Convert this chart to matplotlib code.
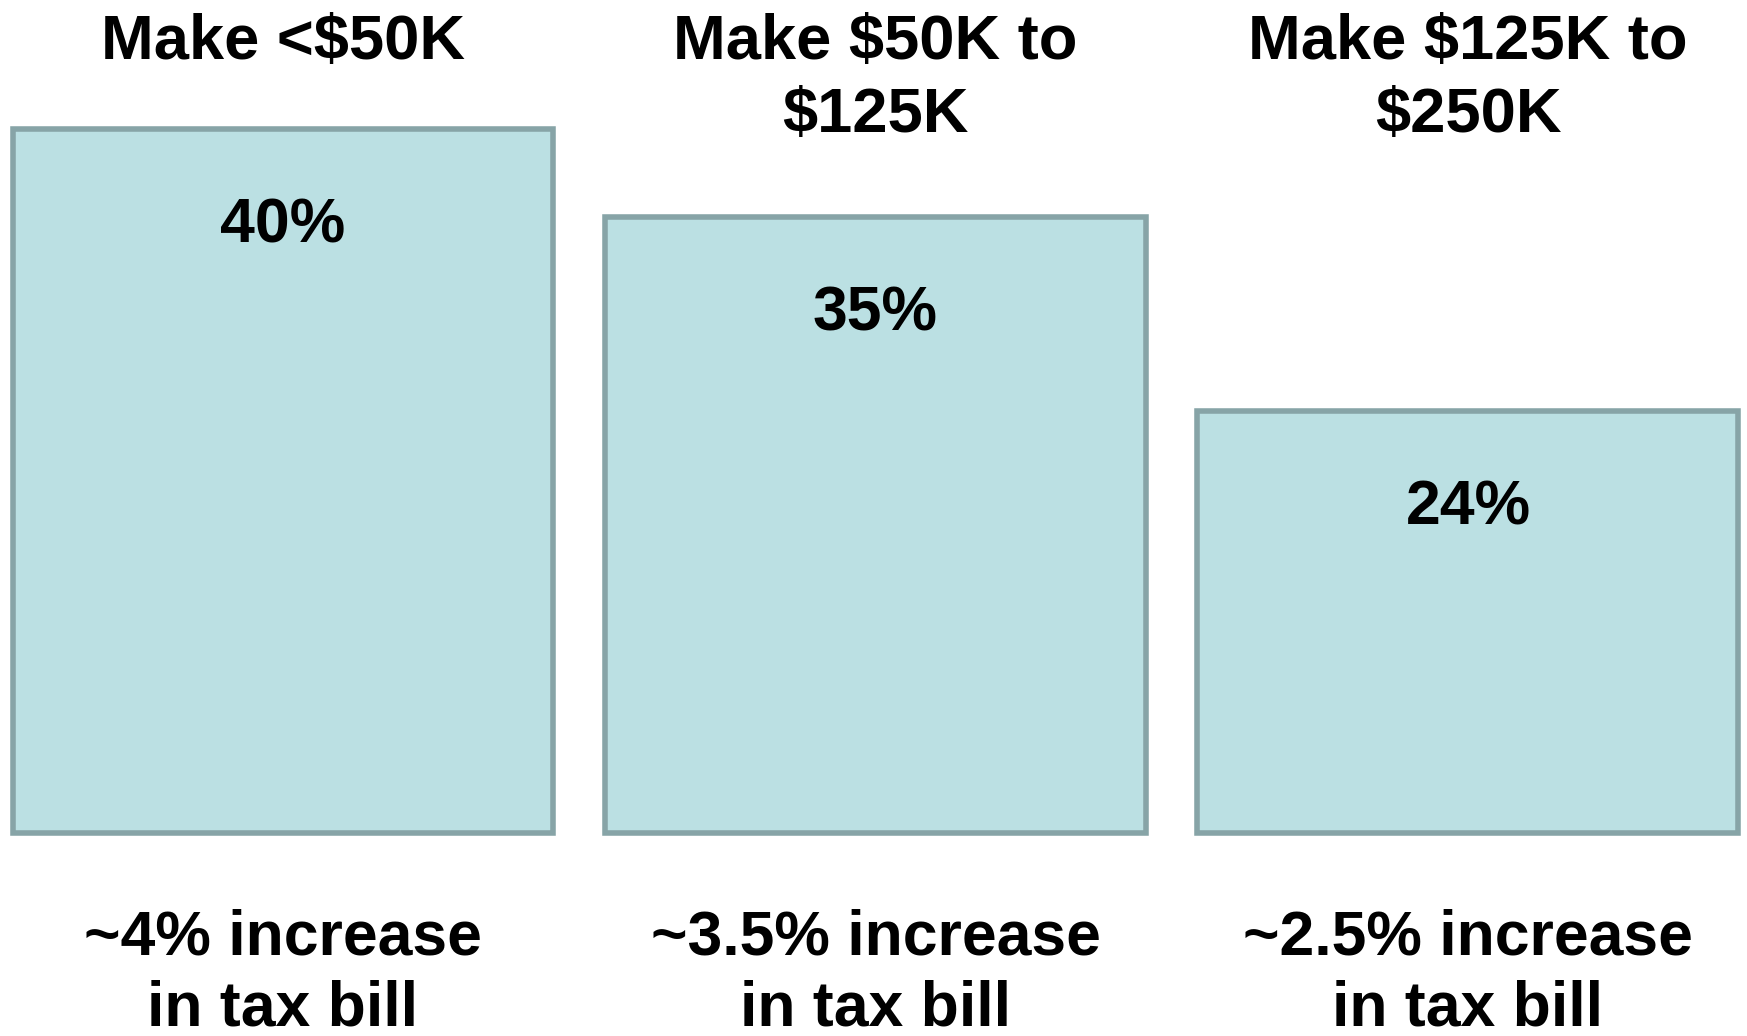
import numpy as np
import matplotlib
matplotlib.use("Agg")
import matplotlib.pyplot as plt

# data
groups = ["Make <$50K", "Make $50K to\n$125K", "Make $125K to\n$250K"]
share = [40, 35, 24]
share_labels = ["40%", "35%", "24%"]
tax_notes = ["~4% increase\nin tax bill", "~3.5% increase\nin tax bill", "~2.5% increase\nin tax bill"]

plt.rcParams['font.family'] = ['Liberation Sans', 'DejaVu Sans']

fig = plt.figure(figsize=(17.47, 10.36), dpi=100)
ax = fig.add_axes([0, 0, 1, 1])

x = np.arange(len(share))
ax.bar(x, share, width=0.913, color='#bbe0e3', edgecolor='#87a4a7', linewidth=4)

ax.set_xlim(-0.4776, 2.471)
ax.set_ylim(-11.53, 47.33)
ax.axis('off')

# value label inside each bar, a fixed distance below its top
for xi, v, lab in zip(x, share, share_labels):
    ax.annotate(lab, (xi, v), xytext=(0, -70), textcoords='offset points',
                ha='center', va='center', fontsize=45, fontweight='bold')

trans = ax.get_xaxis_transform()
for xi, g in zip(x, groups):
    ax.text(xi, 0.987, g, transform=trans, ha='center', va='top',
            fontsize=45.5, fontweight='bold', linespacing=1.3)

for xi, t in zip(x, tax_notes):
    ax.text(xi, 0.1226, t, transform=trans, ha='center', va='top',
            fontsize=45, fontweight='bold', linespacing=1.26)

fig.savefig('out.png', dpi=100)
